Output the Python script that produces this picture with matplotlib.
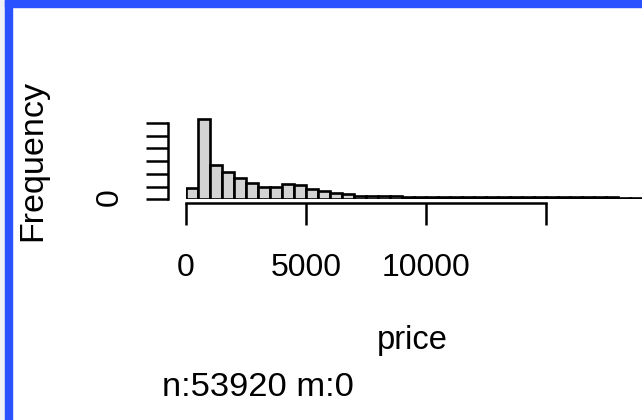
import numpy as np
import matplotlib
matplotlib.use("Agg")
import matplotlib.pyplot as plt
from matplotlib.patches import Rectangle

plt.rcParams['font.family'] = ['Liberation Sans', 'DejaVu Sans']

# histogram of price, bins of 500
bin_width = 500
bin_starts = np.arange(0, 19000, bin_width)
counts = [1730, 12590, 5400, 4250, 3300, 2610, 1890, 1890, 2410, 2200,
          1620, 1350, 1040, 790, 570, 470, 520, 480, 440, 420,
          400, 390, 380, 370, 360, 350, 340, 340, 330, 320,
          320, 310, 310, 300, 300, 290, 280, 260]

x_ticks = [0, 5000, 10000, 15000]
x_tick_labels = ['0', '5000', '10000', '']
y_ticks = [0, 2000, 4000, 6000, 8000, 10000, 12000]
y_tick_labels = ['0', '', '', '', '', '', '']

x_label = 'price'
y_label = 'Frequency'
sub_text = 'n:53920 m:0'

W, H = 642, 420
fig = plt.figure(figsize=(W / 100, H / 100), dpi=100)

# frame around the picture
fig.patches.append(Rectangle((0, 0), 5 / W, 1, transform=fig.transFigure,
                             color='#eef1f6', zorder=0))
fig.patches.append(Rectangle((5 / W, 0), 7 / W, 1, transform=fig.transFigure,
                             color='#2a52fe', zorder=5))
fig.patches.append(Rectangle((5 / W, 1 - 7 / H), 1, 7 / H, transform=fig.transFigure,
                             color='#2a52fe', zorder=5))

ax_bottom = 199.3
ax_h = 89.0
ax = fig.add_axes([186 / W, (H - ax_bottom) / H, 456 / W, ax_h / H])
ax.set_xlim(0, 19000)
ax.set_ylim(0, 14000)
ax.patch.set_alpha(0)

ax.bar(bin_starts, counts, width=bin_width, align='edge',
       color='#d3d3d3', edgecolor='black', linewidth=1.9)

lw = 1.8
for s in ['top', 'right']:
    ax.spines[s].set_visible(False)
ax.spines['left'].set_position(('outward', 13))
ax.spines['left'].set_bounds(0, 12000)
ax.spines['bottom'].set_position(('outward', 2.5))
ax.spines['bottom'].set_bounds(0, 15000)
for s in ['left', 'bottom']:
    ax.spines[s].set_linewidth(lw)

ax.set_xticks(x_ticks)
ax.set_xticklabels(x_tick_labels)
ax.set_yticks(y_ticks)
ax.set_yticklabels(y_tick_labels)
ax.tick_params(axis='both', direction='out', length=15.8, width=lw,
               labelsize=23, colors='black')
ax.tick_params(axis='x', pad=20.5)
ax.tick_params(axis='y', pad=15, labelrotation=90)

ax.set_xlabel(x_label, fontsize=23.5, va='baseline')
ax.xaxis.set_label_coords(412 / W, (H - 349) / H, transform=fig.transFigure)
ax.set_ylabel(y_label, fontsize=24.5)
ax.yaxis.set_label_coords(48 / W, (H - 160.5) / H, transform=fig.transFigure)

fig.text(162 / W, (H - 396) / H, sub_text, fontsize=24.8, va='baseline', ha='left')

fig.savefig('out.png', dpi=100)
